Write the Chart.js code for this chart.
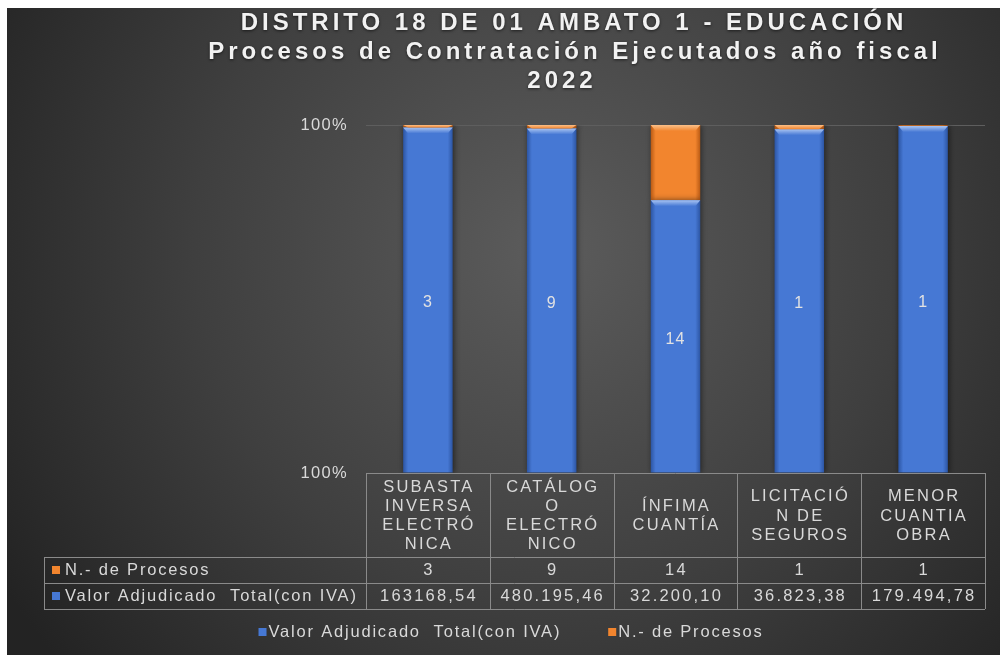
<!DOCTYPE html>
<html>
<head>
<meta charset="utf-8">
<script src="https://cdn.jsdelivr.net/npm/chart.js@4.4.1/dist/chart.umd.min.js"></script>
<style>
  html, body { margin: 0; padding: 0; background: #fff; }
  #wrap { position: absolute; left: 7px; top: 8px; width: 993px; height: 647px; }
</style>
</head>
<body>
<div id="wrap"><canvas id="chart" width="993" height="647"></canvas></div>
<script>
// Data
const titleLines = ['DISTRITO 18 DE 01 AMBATO 1 - EDUCACIÓN', 'Procesos de Contratación Ejecutados año fiscal', '2022'];
const categories = [
    ['SUBASTA', 'INVERSA', 'ELECTRÓ', 'NICA'],
    ['CATÁLOG', 'O', 'ELECTRÓ', 'NICO'],
    ['ÍNFIMA', 'CUANTÍA'],
    ['LICITACIÓ', 'N DE', 'SEGUROS'],
    ['MENOR', 'CUANTIA', 'OBRA']
];
const seriesNames = ['Valor Adjudicado  Total(con IVA)', 'N.- de Procesos'];
// share of each column (100% stacked), as drawn
const valorShare = [99.3, 99.0, 78.4, 98.8, 99.7];
const procesosShare = [0.7, 1.0, 21.6, 1.2, 0.3];
// data table contents
const procesos = [3, 9, 14, 1, 1];
const valorTexto = ['163168,54', '480.195,46', '32.200,10', '36.823,38', '179.494,78'];
const yTicks = [0, 100];

const BLUE = '#4678d4';
const BLUE_DARK = '#2c55a3';
const BLUE_LIGHT = '#a9c4f2';
const ORANGE = '#f2852e';
const ORANGE_DARK = '#b95a14';
const ORANGE_LIGHT = '#fbc089';
const TEXT = '#d9d9d9';
const FONT = "'Liberation Sans', Arial, sans-serif";
const SPACING = '1.3px';

// horizontal gradient so the columns look rounded like the original
function barFill(base, dark) {
    return (ctx) => {
        const chart = ctx.chart;
        const ca = chart.chartArea;
        if (!ca || !chart.scales.x) return base;
        const x = chart.scales.x.getPixelForValue(ctx.dataIndex);
        const w = (ca.right - ca.left) / categories.length * 0.4;
        const g = chart.ctx.createLinearGradient(x - w / 2, 0, x + w / 2, 0);
        g.addColorStop(0, dark);
        g.addColorStop(0.1, base);
        g.addColorStop(0.9, base);
        g.addColorStop(1, dark);
        return g;
    };
}

// Excel text here is a bit spread out
const spacing = {
    id: 'spacing',
    beforeLayout(chart) { chart.ctx.letterSpacing = SPACING; },
    beforeDraw(chart) { chart.ctx.letterSpacing = SPACING; }
};

const background = {
    id: 'background',
    beforeDraw(chart) {
        const { ctx, width, height } = chart;
        const g = ctx.createRadialGradient(540, 240, 0, 540, 240, 640);
        g.addColorStop(0, '#5c5c5c');
        g.addColorStop(0.55, '#3f3f3f');
        g.addColorStop(1, '#232323');
        ctx.save();
        ctx.fillStyle = g;
        ctx.fillRect(0, 0, width, height);
        ctx.restore();
    }
};

const titlePlugin = {
    id: 'titleLines',
    afterDraw(chart) {
        const ctx = chart.ctx;
        const centers = [567, 568, 555];
        ctx.save();
        ctx.font = 'bold 24px ' + FONT;
        ctx.letterSpacing = '4px';
        ctx.fillStyle = '#f2f2f2';
        ctx.textAlign = 'center';
        ctx.textBaseline = 'middle';
        ctx.shadowColor = 'rgba(0,0,0,0.6)';
        ctx.shadowBlur = 3;
        ctx.shadowOffsetY = 1;
        titleLines.forEach((t, i) => ctx.fillText(t, centers[i], 15 + i * 29));
        ctx.restore();
    }
};

const barShadow = {
    id: 'barShadow',
    beforeDatasetsDraw(chart) {
        const ctx = chart.ctx;
        ctx.save();
        ctx.letterSpacing = '0px';
        ctx.shadowColor = 'rgba(0,0,0,0.55)';
        ctx.shadowBlur = 6;
        ctx.shadowOffsetX = 1;
    },
    afterDatasetsDraw(chart) {
        chart.ctx.restore();
    }
};

// light bevel at the top of every segment
const bevel = {
    id: 'bevel',
    afterDatasetsDraw(chart) {
        const ctx = chart.ctx;
        const lights = [[BLUE_LIGHT, BLUE], [ORANGE_LIGHT, ORANGE]];
        ctx.save();
        chart.data.datasets.forEach((ds, d) => {
            chart.getDatasetMeta(d).data.forEach(el => {
                const h = Math.min(6, el.base - el.y);
                if (h < 2) return;
                const l = el.x - el.width / 2, r = el.x + el.width / 2;
                const g = ctx.createLinearGradient(0, el.y, 0, el.y + h);
                g.addColorStop(0, lights[d][0]);
                g.addColorStop(1, lights[d][1]);
                ctx.fillStyle = g;
                ctx.beginPath();
                ctx.moveTo(l, el.y);
                ctx.lineTo(r, el.y);
                ctx.lineTo(r - 5, el.y + h);
                ctx.lineTo(l + 5, el.y + h);
                ctx.closePath();
                ctx.fill();
            });
        });
        ctx.restore();
    }
};

// value labels on the blue columns
const barLabels = {
    id: 'barLabels',
    afterDatasetsDraw(chart) {
        const ctx = chart.ctx;
        const meta = chart.getDatasetMeta(0);
        ctx.save();
        ctx.font = '16px ' + FONT;
        ctx.letterSpacing = '1px';
        ctx.fillStyle = '#e2e2e2';
        ctx.textAlign = 'center';
        ctx.textBaseline = 'middle';
        meta.data.forEach((bar, i) => {
            ctx.fillText(String(procesos[i]), bar.x, (bar.y + bar.base) / 2 + 3);
        });
        ctx.restore();
    }
};

// data table under the plot
const dataTable = {
    id: 'dataTable',
    afterDraw(chart) {
        const ctx = chart.ctx;
        const ca = chart.chartArea;
        const n = categories.length;
        const colW = (ca.right - ca.left) / n;
        const top = ca.bottom;
        const headH = 84, rowH = 26;
        const rowLeft = 37;
        const r1 = top + headH, r2 = r1 + rowH, r3 = r2 + rowH;

        ctx.save();
        ctx.strokeStyle = '#8a8a8a';
        ctx.lineWidth = 1;
        ctx.beginPath();
        ctx.moveTo(ca.left, top + 0.5); ctx.lineTo(ca.right, top + 0.5);
        for (let i = 0; i <= n; i++) {
            const x = Math.round(ca.left + i * colW) + 0.5;
            ctx.moveTo(x, top); ctx.lineTo(x, r3);
        }
        [r1, r2, r3].forEach(y => {
            ctx.moveTo(rowLeft, Math.round(y) + 0.5); ctx.lineTo(ca.right, Math.round(y) + 0.5);
        });
        ctx.moveTo(rowLeft + 0.5, r1); ctx.lineTo(rowLeft + 0.5, r3);
        ctx.stroke();

        ctx.fillStyle = TEXT;
        ctx.textAlign = 'center';
        ctx.textBaseline = 'middle';
        categories.forEach((lines, i) => {
            const cx = chart.scales.x.getPixelForValue(i) + 1;
            const lh = 19.3;
            const y0 = top + headH / 2 + 1 - (lines.length - 1) * lh / 2;
            ctx.font = '16.5px ' + FONT;
            ctx.letterSpacing = '2.2px';
            lines.forEach((l, j) => ctx.fillText(l, cx, y0 + j * lh));
            ctx.fillText(String(procesos[i]), cx, r1 + rowH / 2);
            ctx.fillText(valorTexto[i], cx, r2 + rowH / 2);
        });

        // row headers with legend keys
        ctx.textAlign = 'left';
        ctx.font = '16.5px ' + FONT;
        ctx.letterSpacing = '1.8px';
        const keys = [[seriesNames[1], ORANGE, r1], [seriesNames[0], BLUE, r2]];
        keys.forEach(([name, col, y]) => {
            ctx.fillStyle = col;
            ctx.fillRect(rowLeft + 8, y + rowH / 2 - 4, 8, 8);
            ctx.fillStyle = TEXT;
            ctx.fillText(name, rowLeft + 21, y + rowH / 2);
        });

        // legend below the table
        const ly = r3 + 23;
        const gap = 47;
        const widths = seriesNames.map(s => 10 + ctx.measureText(s).width);
        let x = 504 - (widths[0] + gap + widths[1]) / 2;
        [[seriesNames[0], BLUE], [seriesNames[1], ORANGE]].forEach(([name, col], i) => {
            ctx.fillStyle = col;
            ctx.fillRect(x, ly - 4, 8, 8);
            ctx.fillStyle = TEXT;
            ctx.fillText(name, x + 10, ly);
            x += widths[i] + gap;
        });
        ctx.restore();
    }
};

function initializeChart() {
    const ctx = document.getElementById('chart').getContext('2d');
    new Chart(ctx, {
        type: 'bar',
        data: {
            labels: categories,
            datasets: [{
                label: seriesNames[0],
                data: valorShare,
                backgroundColor: barFill(BLUE, BLUE_DARK),
                borderWidth: 0
            }, {
                label: seriesNames[1],
                data: procesosShare,
                backgroundColor: barFill(ORANGE, ORANGE_DARK),
                borderWidth: 0
            }]
        },
        options: {
            responsive: false,
            animation: false,
            layout: { padding: { top: 117, left: 0, right: 15, bottom: 46 } },
            datasets: { bar: { categoryPercentage: 1, barPercentage: 0.4 } },
            scales: {
                x: {
                    stacked: true,
                    grid: { display: false },
                    border: { display: false },
                    ticks: { display: false },
                    afterFit: (scale) => { scale.height = 136; }
                },
                y: {
                    stacked: true,
                    min: 0,
                    max: 100,
                    afterBuildTicks: (scale) => { scale.ticks = yTicks.map(v => ({ value: v })); },
                    ticks: {
                        color: TEXT,
                        font: { family: FONT, size: 16.5 },
                        padding: 18,
                        callback: () => '100%'
                    },
                    grid: {
                        drawTicks: false,
                        color: (c) => c.tick && c.tick.value === 100 ? '#5e5e5e' : 'rgba(0,0,0,0)'
                    },
                    border: { display: false },
                    afterFit: (scale) => { scale.width = 359; }
                }
            },
            plugins: {
                title: { display: false },
                tooltip: { enabled: false },
                legend: { display: false }
            }
        },
        plugins: [spacing, background, barShadow, bevel, barLabels, dataTable, titlePlugin]
    });
}

document.addEventListener('DOMContentLoaded', () => {
    initializeChart();
});
</script>
</body>
</html>
